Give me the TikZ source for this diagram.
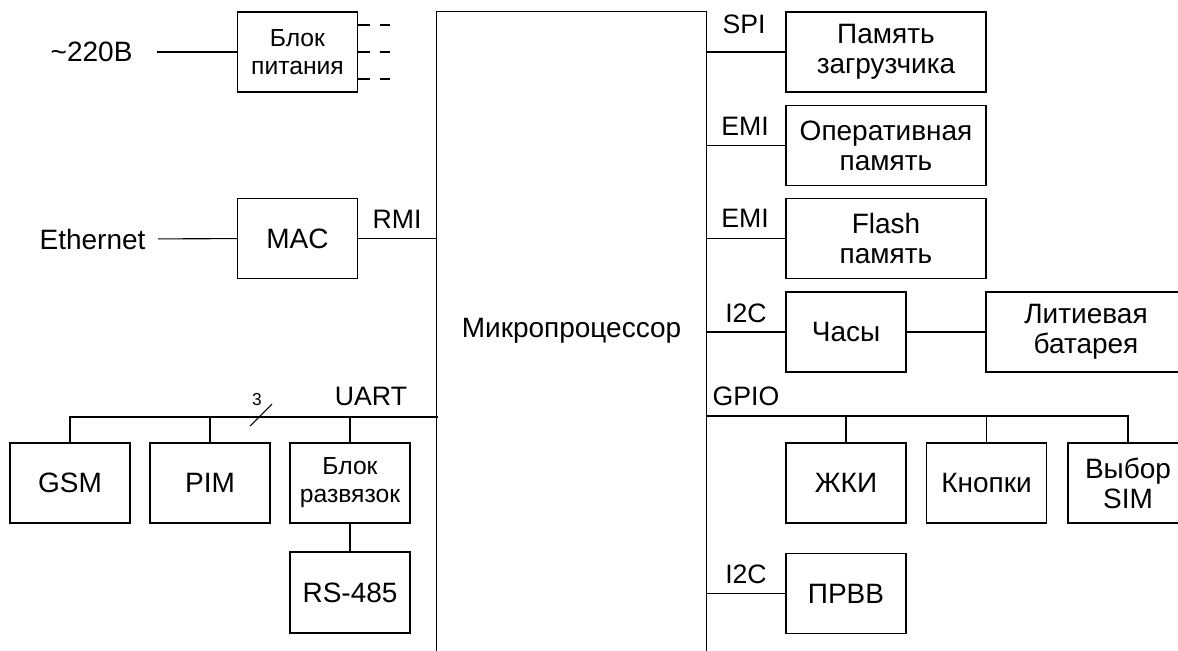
\documentclass[tikz,border=0pt]{standalone}
\usepackage{fontspec}
\setmainfont{Liberation Sans}
\usetikzlibrary{positioning}

\begin{document}
\begin{tikzpicture}[
	x=0.75pt, y=-0.75pt,
	line width=0.8pt,
	block/.style={rectangle, draw, minimum width=90pt, minimum height=60pt, inner sep=0pt, align=center, font=\fontsize{21}{22.5}\selectfont},
	small/.style={font=\fontsize{18.5}{21}\selectfont},
	bus/.style={inner sep=0pt, anchor=base, font=\fontsize{20}{22}\selectfont},
	term/.style={inner sep=0pt, font=\fontsize{21}{22.5}\selectfont}
]
	\useasboundingbox (0,0) rectangle (1178,650);

	% Microprocessor
	\node[minimum width=201.75pt, minimum height=478.5pt, inner sep=0pt, font=\fontsize{21}{22.5}\selectfont] (cpu) at (571.5,331) {Микропроцессор};
	\draw (cpu.south west) |- (cpu.north east) -- (cpu.south east);

	% Left side
	\node[block, small] (psu) at (297.5,52) {Блок\\питания};
	\node[block] (mac) at (297.5,238.5) {MAC};
	\node[block] (gsm) at (70,483) {GSM};
	\node[block] (pim) at (210,483) {PIM};
	\node[block, small] (razv) at (350,483) {Блок\\развязок};
	\node[block, minimum height=60.75pt] (rs) at (350,592.5) {RS-485};

	\node[term, anchor=east, inner xsep=18pt] (mains) at (157,52) {\textasciitilde 220В};
	\node[term, anchor=east, inner xsep=9pt] (eth) at (158,239) {Ethernet};

	\draw (mains) -- (psu);
	\foreach \dy in {-27,0,27}
		\draw[dash pattern=on 9pt off 7.5pt] ([shift={(0,\dy)}]psu.east) -- ++(32,0);
	\draw (eth) -- (mac);
	\draw (mac) -- (mac -| cpu.west);
	\node[bus] (rmi) at (397,228) {RMI};

	% UART bus
	\coordinate (uart) at (437.5,417);
	\draw (uart) -| (gsm.north);
	\draw (pim.north) -- (pim.north |- uart);
	\draw (razv.north) -- (razv.north |- uart);
	\draw (razv) -- (rs);
	\node[bus] (uartlbl) at (371,405) {UART};
	\coordinate (tick) at (261,415);
	\draw ([shift={(-11,11)}]tick) -- ([shift={(11,-11)}]tick);
	\node[bus, font=\fontsize{13}{14}\selectfont] (lines) at (257,405) {3};

	% Right side
	\node[block, minimum width=150pt] (boot) at (886,52) {Память\\загрузчика};
	\node[block, minimum width=150pt] (ram) at (886,145.5) {Оперативная\\память};
	\node[block, minimum width=150pt] (flash) at (886,238.5) {Flash\\память};
	\node[block] (clk) at (846,332) {Часы};
	\node[block, minimum width=150pt] (batt) at (1086,332) {Литиевая\\батарея};
	\node[block] (lcd) at (846,483) {ЖКИ};
	\node[block] (keys) at (986.5,483) {Кнопки};
	\node[block] (sim) at (1128,483) {Выбор\\SIM};
	\node[block] (prvv) at (846,593.5) {ПРВВ};

	\draw (boot) -- (boot -| cpu.east);
	\draw (ram) -- (ram -| cpu.east);
	\draw (flash) -- (flash -| cpu.east);
	\draw (clk) -- (clk -| cpu.east);
	\draw (clk) -- (batt);
	\draw (prvv) -- (prvv -| cpu.east);

	% GPIO bus
	\coordinate (gpio) at (705.5,416);
	\draw (gpio) -| (sim.north);
	\draw (lcd.north) -- (lcd.north |- gpio);
	\draw (keys.north) -- (keys.north |- gpio);

	% Bus labels
	\node[bus] (spi) at (744,33) {SPI};
	\node[bus] (emi1) at (745,135) {EMI};
	\node[bus] (emi2) at (745,227) {EMI};
	\node[bus] (i2c1) at (746,322) {I2C};
	\node[bus] (gpiolbl) at (746,405) {GPIO};
	\node[bus] (i2c2) at (746,583) {I2C};
\end{tikzpicture}
\end{document}
